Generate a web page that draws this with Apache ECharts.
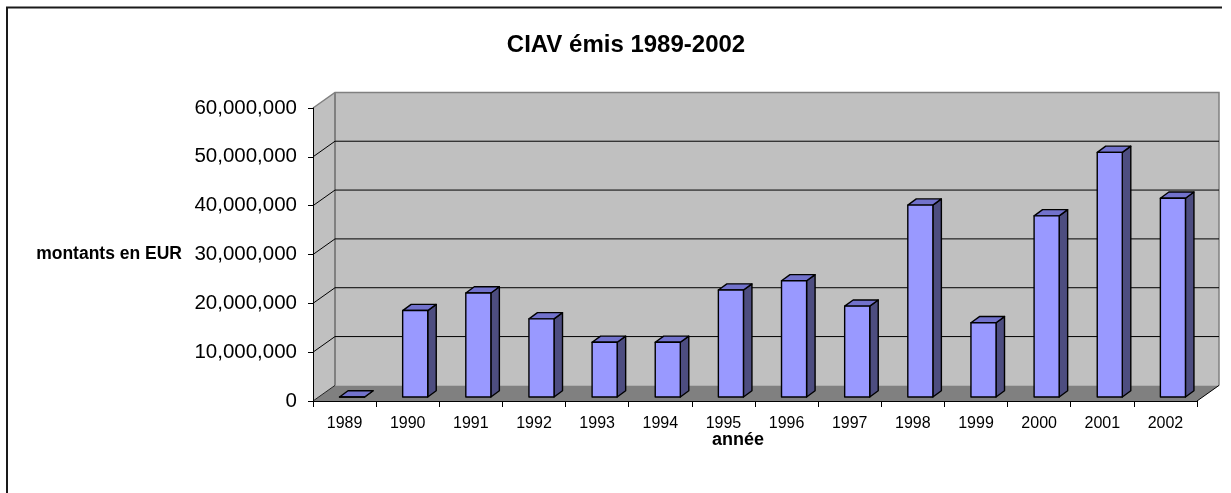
<!DOCTYPE html>
<html><head><meta charset="utf-8">
<script src="https://cdn.jsdelivr.net/npm/echarts@6/dist/echarts.min.js"></script>
<style>html,body{margin:0;padding:0;background:#fff}#c{width:1231px;height:493px}</style>
</head><body><div id="c"></div>
<script>
const chartTitle = 'CIAV émis 1989-2002';
const categories = ['1989','1990','1991','1992','1993','1994','1995','1996','1997','1998','1999','2000','2001','2002'];
const amounts = [0, 17700000, 21300000, 16000000, 11200000, 11200000, 21900000, 23800000, 18600000, 39300000, 15200000, 37100000, 50100000, 40700000];
const yTicks = [0, 10000000, 20000000, 30000000, 40000000, 50000000, 60000000];
const yName = 'montants en EUR';
const xName = 'année';

const FONT = "'Liberation Sans', Arial, sans-serif";
const DX = 22, DY = -15.6;          // wall depth
const BDX = 8.5, BDY = -6.2;        // bar depth
const BAR_SHIFT_Y = -4;             // bars sit slightly behind the front edge

function fmt(v){ return String(Math.round(v)).replace(/\B(?=(\d{3})+(?!\d))/g, ','); }

function frame(api){
  const bw = api.size([1,0])[0];
  const n = categories.length;
  return {
    bw,
    xl: api.coord([0,0])[0] - bw/2,
    xr: api.coord([n-1,0])[0] + bw/2,
    yb: api.coord([0, yTicks[0]])[1],
    yt: api.coord([0, yTicks[yTicks.length-1]])[1]
  };
}

function wallsRender(params, api){
  const f = frame(api);
  const {xl, xr, yb, yt} = f;
  return {type:'group', children:[
    {type:'polygon', shape:{points:[[xl,yt],[xl+DX,yt+DY],[xl+DX,yb+DY],[xl,yb]]}, style:{fill:'#c0c0c0'}},
    {type:'polygon', shape:{points:[[xl+DX,yt+DY],[xr+DX,yt+DY],[xr+DX,yb+DY],[xl+DX,yb+DY]]}, style:{fill:'#c0c0c0'}},
    {type:'polygon', shape:{points:[[xl,yb],[xr,yb],[xr+DX,yb+DY],[xl+DX,yb+DY]]}, style:{fill:'#808080'}},
    {type:'polyline', shape:{points:[[xl,yt],[xl+DX,yt+DY],[xr+DX,yt+DY],[xr+DX,yb+DY]]}, style:{fill:null, stroke:'#808080', lineWidth:1.5}},
    {type:'line', shape:{x1:xl+DX,y1:yt+DY,x2:xl+DX,y2:yb+DY}, style:{stroke:'#808080', lineWidth:2}},
    {type:'line', shape:{x1:xr,y1:yb,x2:xr+DX,y2:yb+DY}, style:{stroke:'#000', lineWidth:1}},
    {type:'line', shape:{x1:xl,y1:yb,x2:xl+DX,y2:yb+DY}, style:{stroke:'#222', lineWidth:1}}
  ]};
}

function gridRender(params, api){
  const v = api.value(1);
  if (v <= yTicks[0] || v >= yTicks[yTicks.length-1]) return {type:'group', children:[]};
  const f = frame(api);
  const y = api.coord([0, v])[1];
  return {type:'group', children:[
    {type:'line', shape:{x1:f.xl,y1:y,x2:f.xl+DX,y2:y+DY}, style:{stroke:'#000', lineWidth:1}},
    {type:'line', shape:{x1:f.xl+DX,y1:y+DY,x2:f.xr+DX,y2:y+DY}, style:{stroke:'#000', lineWidth:1}}
  ]};
}

function barRender(params, api){
  const i = api.value(0), v = api.value(1);
  const bw = api.size([1,0])[0];
  const c = api.coord([i, 0]);
  const t = api.coord([i, v]);
  const x0 = c[0] - bw*0.08, x1 = c[0] + bw*0.317;
  const yb = c[1] + BAR_SHIFT_Y, ytp = t[1] + BAR_SHIFT_Y;
  const st = {stroke:'#000', lineWidth:1.4, lineJoin:'round'};
  return {type:'group', children:[
    {type:'polygon', shape:{points:[[x1,yb],[x1+BDX,yb+BDY],[x1+BDX,ytp+BDY],[x1,ytp]]}, style:Object.assign({fill:'#4d4d80'}, st)},
    {type:'polygon', shape:{points:[[x0,ytp],[x0+BDX,ytp+BDY],[x1+BDX,ytp+BDY],[x1,ytp]]}, style:Object.assign({fill:'#7272cc'}, st)},
    {type:'polygon', shape:{points:[[x0,yb],[x1,yb],[x1,ytp],[x0,ytp]]}, style:Object.assign({fill:'#9999ff'}, st)}
  ]};
}

const chart = echarts.init(document.getElementById('c'), null, {renderer:'canvas'});
chart.setOption({
  animation:false,
  backgroundColor:'#fff',
  title:{text:chartTitle, left:621, top:28, textAlign:'center',
    textStyle:{fontFamily:FONT, fontSize:24, fontWeight:'bold', color:'#000'}},
  grid:{left:313, right:34, top:108, bottom:92, containLabel:false},
  xAxis:{type:'category', data:categories, boundaryGap:true,
    axisLine:{show:true, lineStyle:{color:'#000', width:1}},
    axisTick:{show:true, length:6, lineStyle:{color:'#000'}},
    axisLabel:{interval:0, margin:15, fontSize:16, color:'#000', fontFamily:FONT},
    splitLine:{show:false},
    name:xName, nameLocation:'middle', nameGap:30, nameMoveOverlap:false,
    nameTextStyle:{fontFamily:FONT, fontSize:18, fontWeight:'bold', color:'#000', padding:[0,34,0,0]}},
  yAxis:{type:'value', min:0, max:60000000, interval:10000000,
    axisLine:{show:true, lineStyle:{color:'#000', width:1}},
    axisTick:{show:true, length:5, lineStyle:{color:'#000'}},
    splitLine:{show:false},
    axisLabel:{margin:16, fontSize:20.5, color:'#000', fontFamily:FONT, formatter:fmt},
    name:yName, nameLocation:'middle', nameRotate:0, nameGap:131, nameMoveOverlap:false,
    nameTextStyle:{fontFamily:FONT, fontSize:17.5, fontWeight:'bold', color:'#000', align:'right', verticalAlign:'middle', padding:[4,0,0,0]}},
  graphic:[
    {type:'polyline', shape:{points:[[7,493],[7,7.5],[1222,7.5]]}, style:{fill:null, stroke:'#1a1a1a', lineWidth:2}}
  ],
  series:[
    {type:'custom', name:'walls', z:-3, silent:true, renderItem:wallsRender, data:[[0, yTicks[yTicks.length-1]]]},
    {type:'custom', name:'grid', z:-2, silent:true, renderItem:gridRender, data:yTicks.map(v=>[0,v])},
    {type:'custom', name:'CIAV', z:3, renderItem:barRender, data:amounts.map((v,i)=>[i,v])}
  ]
});
</script></body></html>
